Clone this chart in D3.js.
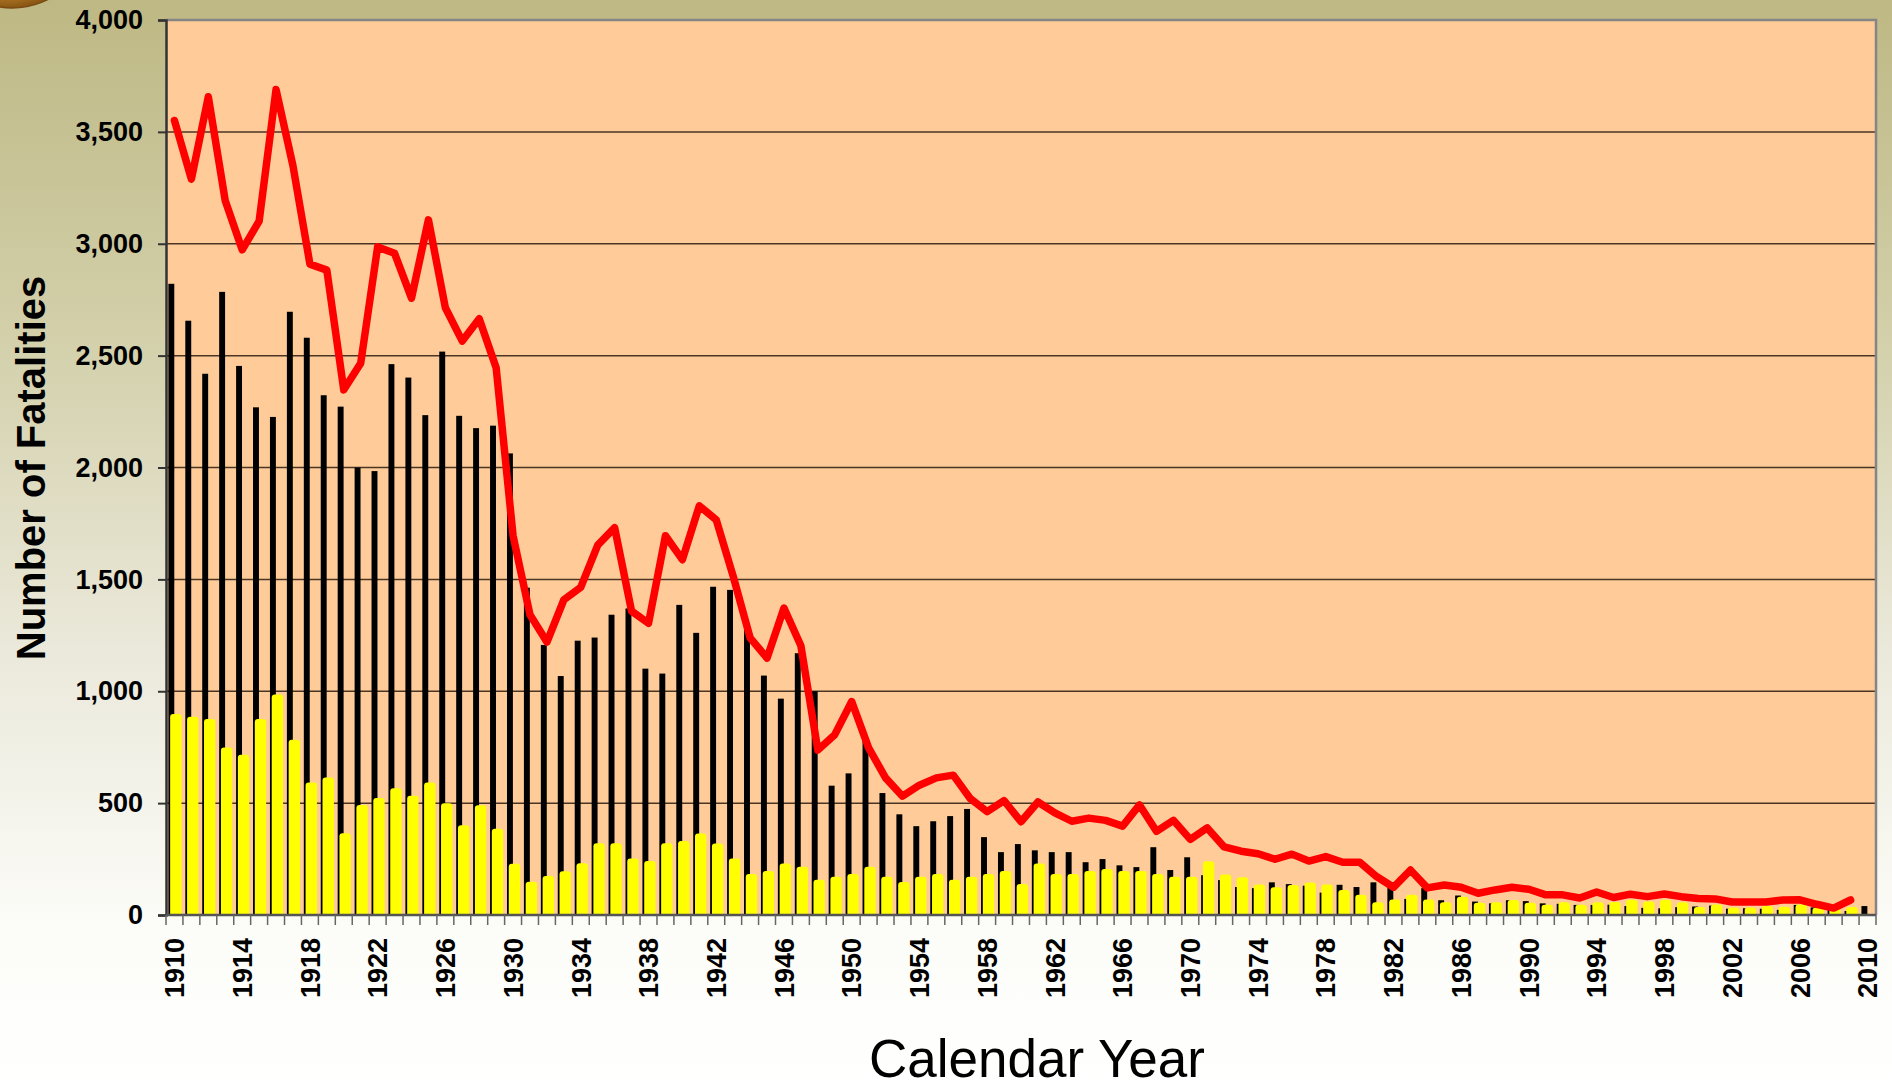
<!DOCTYPE html>
<html>
<head>
<meta charset="utf-8">
<script src="https://cdn.jsdelivr.net/npm/d3@7"></script>
<style>
  html, body { margin: 0; padding: 0; background: #fff; }
  svg { display: block; }
  text { font-family: "Liberation Sans", Arial, sans-serif; }
</style>
</head>
<body>
<svg id="chart" width="1892" height="1090"></svg>
<script>
// ---------- DATA ----------
const years = d3.range(1910, 2011);

const tickYears = d3.range(1910, 2011, 4);

const yTicks = [0, 500, 1000, 1500, 2000, 2500, 3000, 3500, 4000];

// black bars
const coalFatalities = [
  2821, 2656, 2419, 2785, 2454, 2269, 2226, 2696, 2580, 2323, // 1910-1919
  2272, 2000, 1984, 2462, 2402, 2234, 2518, 2231, 2176, 2187, // 1920-1929
  2063, 1463, 1207, 1068, 1226, 1240, 1342, 1370, 1101, 1079, // 1930-1939
  1386, 1261, 1467, 1453, 1280, 1070, 967, 1170, 1000, 578,   // 1940-1949
  633, 785, 545, 450, 397, 419, 442, 474, 348, 281,           // 1950-1959
  317, 289, 281, 281, 236, 250, 222, 214, 303, 201,           // 1960-1969
  258, 178, 156, 125, 120, 146, 138, 131, 100, 135,           // 1970-1979
  125, 146, 125, 72, 120, 66, 87, 60, 52, 66,                 // 1980-1989
  62, 52, 50, 45, 45, 46, 40, 32, 30, 35,                     // 1990-1999
  38, 42, 28, 30, 28, 23, 45, 34, 30, 18,                     // 2000-2009
  40                                                          // 2010
];

// yellow bars
const metalNonmetalFatalities = [
  898, 886, 876, 749, 716, 876, 985, 783, 592, 614,           // 1910-1919
  365, 492, 523, 567, 533, 592, 500, 401, 490, 386,           // 1920-1929
  229, 149, 174, 196, 231, 321, 321, 253, 241, 321,           // 1930-1939
  331, 364, 319, 252, 183, 197, 230, 216, 157, 171,           // 1940-1949
  183, 216, 171, 147, 171, 183, 157, 171, 183, 197,           // 1950-1959
  138, 230, 183, 183, 197, 206, 197, 197, 183, 171,           // 1960-1969
  171, 240, 181, 169, 136, 124, 134, 145, 136, 112,           // 1970-1979
  91, 57, 69, 91, 69, 57, 82, 55, 57, 67,                     // 1980-1989
  55, 46, 57, 46, 57, 58, 68, 60, 68, 57,                     // 1990-1999
  36, 47, 34, 34, 40, 37, 47, 32, 28, 36,                     // 2000-2009
  null                                                        // 2010
];

// red line
const totalFatalities = [
  3551, 3289, 3657, 3192, 2973, 3101, 3689, 3348, 2909, 2882, // 1910-1919
  2347, 2466, 2986, 2957, 2757, 3107, 2714, 2565, 2665, 2446, // 1920-1929
  1695, 1342, 1220, 1409, 1465, 1653, 1731, 1358, 1304, 1695, // 1930-1939
  1588, 1829, 1766, 1514, 1239, 1148, 1372, 1203, 737, 806,   // 1940-1949
  954, 747, 613, 531, 580, 613, 625, 521, 462, 511,           // 1950-1959
  417, 505, 456, 419, 433, 423, 397, 492, 374, 423,           // 1960-1969
  338, 389, 304, 285, 274, 249, 272, 241, 261, 236,           // 1970-1979
  236, 172, 124, 201, 121, 134, 124, 97, 112, 124,            // 1980-1989
  115, 90, 90, 76, 103, 78, 93, 82, 94, 82,                   // 1990-1999
  74, 72, 58, 58, 58, 67, 68, 48, 31, 67,                     // 2000-2009
  null                                                        // 2010
];

const yAxisTitle = "Number of Fatalities";
const xAxisTitle = "Calendar Year";

// ---------- LAYOUT ----------
const W = 1892, H = 1090;
const plot = { left: 166, right: 1876, top: 20, bottom: 915 };

const svg = d3.select("#chart");
const defs = svg.append("defs");

const bgGrad = defs.append("linearGradient").attr("id", "bg")
  .attr("x1", 0).attr("y1", 0).attr("x2", 0).attr("y2", 1);
[[0, "#beb884"], [0.3, "#d2cfa9"], [0.6, "#ebe9db"], [0.85, "#fcfcf8"], [1, "#ffffff"]]
  .forEach(([o, c]) => bgGrad.append("stop").attr("offset", o).attr("stop-color", c));

const coin = defs.append("radialGradient").attr("id", "coin")
  .attr("cx", "45%").attr("cy", "40%").attr("r", "60%");
[[0, "#e2b45a"], [0.8, "#c48a30"], [1, "#8a5714"]]
  .forEach(([o, c]) => coin.append("stop").attr("offset", o).attr("stop-color", c));

svg.append("rect").attr("width", W).attr("height", H).attr("fill", "url(#bg)");
svg.append("circle").attr("cx", 12).attr("cy", -72).attr("r", 80)
  .attr("fill", "url(#coin)").attr("stroke", "#7a4a10").attr("stroke-width", 1.5);

// ---------- SCALES ----------
const x = d3.scaleBand().domain(years).range([plot.left, plot.right]).padding(0);
const y = d3.scaleLinear().domain([0, 4000]).range([plot.bottom, plot.top]);
const bw = x.bandwidth();

// plot area
svg.append("rect")
  .attr("x", plot.left).attr("y", plot.top)
  .attr("width", plot.right - plot.left).attr("height", plot.bottom - plot.top)
  .attr("fill", "#ffcc99");

// gridlines
svg.append("g").selectAll("line").data(yTicks.filter(d => d > 0)).join("line")
  .attr("x1", plot.left).attr("x2", plot.right)
  .attr("y1", d => y(d)).attr("y2", d => y(d))
  .attr("stroke", "#4a3525").attr("stroke-width", 1.5);

// top / right border
svg.append("path")
  .attr("d", `M${plot.left},${plot.top}H${plot.right}V${plot.bottom}`)
  .attr("fill", "none").attr("stroke", "#858585").attr("stroke-width", 2.5);

// black bars
svg.append("g").selectAll("rect")
  .data(years.map((yr, i) => ({ yr, v: coalFatalities[i] })).filter(d => d.v != null))
  .join("rect")
  .attr("x", d => x(d.yr) + bw * 0.14)
  .attr("width", bw * 0.35)
  .attr("y", d => y(d.v))
  .attr("height", d => y(0) - y(d.v))
  .attr("fill", "#000");

// yellow bars (rounded tops)
function roundTop(x0, y0, w, h, r) {
  r = Math.min(r, h, w / 2);
  return `M${x0},${y0 + h}V${y0 + r}Q${x0},${y0} ${x0 + r},${y0}H${x0 + w - r}Q${x0 + w},${y0} ${x0 + w},${y0 + r}V${y0 + h}Z`;
}
svg.append("g").selectAll("path")
  .data(years.map((yr, i) => ({ yr, v: metalNonmetalFatalities[i] })).filter(d => d.v != null))
  .join("path")
  .attr("d", d => roundTop(x(d.yr) + bw * 0.245, y(d.v), bw * 0.67, y(0) - y(d.v), 3))
  .attr("fill", "#ffff00");

// red line
const line = d3.line()
  .defined(d => d.v != null)
  .x(d => x(d.yr) + bw / 2)
  .y(d => y(d.v));
svg.append("path")
  .datum(years.map((yr, i) => ({ yr, v: totalFatalities[i] })))
  .attr("d", line)
  .attr("fill", "none")
  .attr("stroke", "#ff0000")
  .attr("stroke-width", 7.5)
  .attr("stroke-linejoin", "round")
  .attr("stroke-linecap", "round");

// ---------- AXES ----------
const yAxis = d3.axisLeft(y).tickValues(yTicks).tickSize(8).tickPadding(15)
  .tickFormat(d3.format(","));
const gy = svg.append("g").attr("transform", `translate(${plot.left},0)`).call(yAxis);
gy.select(".domain").attr("stroke", "#333").attr("stroke-width", 2.5);
gy.selectAll(".tick line").attr("stroke", "#333").attr("stroke-width", 2);
gy.selectAll(".tick text")
  .attr("font-size", 27).attr("font-weight", "bold").attr("fill", "#000")
  .attr("font-family", "'Liberation Sans', Arial, sans-serif");

// bottom axis line and ticks at band boundaries
const gx = svg.append("g");
gx.append("line").attr("x1", plot.left).attr("x2", plot.right)
  .attr("y1", plot.bottom).attr("y2", plot.bottom)
  .attr("stroke", "#555").attr("stroke-width", 2.5);
const boundaries = years.map(yr => x(yr)).concat([plot.right]);
gx.selectAll("line.tk").data(boundaries).join("line").attr("class", "tk")
  .attr("x1", d => d).attr("x2", d => d)
  .attr("y1", plot.bottom).attr("y2", plot.bottom + 10)
  .attr("stroke", "#666").attr("stroke-width", 1.5);
gx.selectAll("text").data(tickYears).join("text")
  .attr("transform", d => `translate(${x(d) + bw / 2},${plot.bottom + 23}) rotate(-90)`)
  .attr("text-anchor", "end")
  .attr("dy", "0.36em")
  .attr("font-size", 27).attr("font-weight", "bold").attr("fill", "#000")
  .text(d => d);

// titles
svg.append("text")
  .attr("transform", `translate(45,468) rotate(-90)`)
  .attr("text-anchor", "middle")
  .attr("font-size", 40).attr("font-weight", "bold").attr("fill", "#000")
  .text(yAxisTitle);

svg.append("text")
  .attr("x", 1037).attr("y", 1077)
  .attr("text-anchor", "middle")
  .attr("font-size", 53).attr("fill", "#000")
  .text(xAxisTitle);
</script>
</body>
</html>
